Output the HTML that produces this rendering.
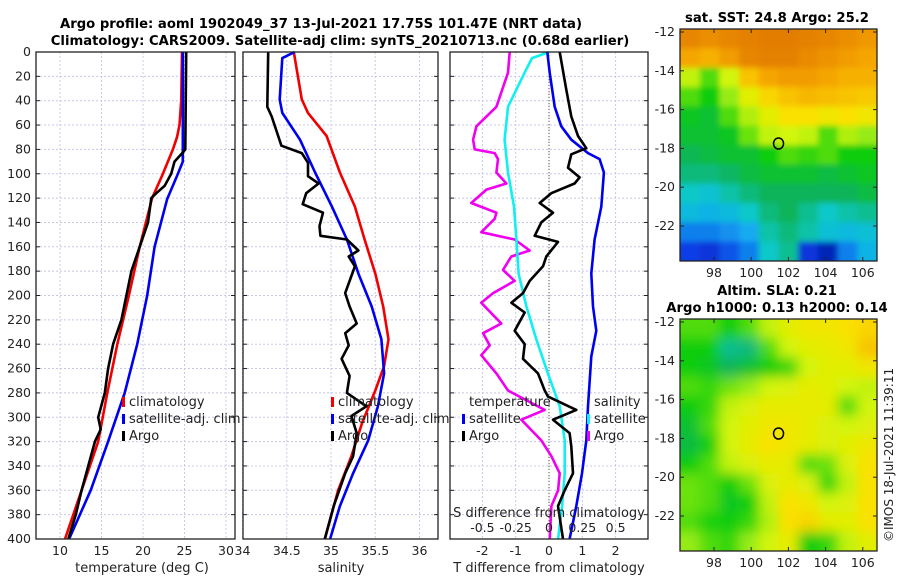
<!DOCTYPE html>
<html><head><meta charset="utf-8">
<style>
body{margin:0;background:#fff;}
svg{display:block;font-family:"DejaVu Sans","Liberation Sans",sans-serif;}
.t{font-size:12px;fill:#222;}
.b{font-size:13.2px;font-weight:bold;fill:#000;}
</style></head>
<body>
<svg id="c" width="900" height="580" viewBox="0 0 900 580">
<text class="b" x="321" y="28" text-anchor="middle">Argo profile: aoml 1902049_37 13-Jul-2021 17.75S 101.47E (NRT data)</text>
<text class="b" x="340" y="45" text-anchor="middle">Climatology: CARS2009. Satellite-adj clim: synTS_20210713.nc (0.68d earlier)</text>
<text class="b" x="777" y="22" text-anchor="middle">sat. SST: 24.8 Argo: 25.2</text>
<text class="b" x="777" y="295" text-anchor="middle">Altim. SLA: 0.21</text>
<text class="b" x="777" y="312" text-anchor="middle">Argo h1000: 0.13 h2000: 0.14</text>
<text class="t" x="0" y="0" transform="translate(893,542) rotate(-90)">©IMOS 18-Jul-2021 11:39:11</text>
<g id="g"></g>
</svg>
<script>
// ---- depth axis
const depthTicks=[0,20,40,60,80,100,120,140,160,180,200,220,240,260,280,300,320,340,360,380,400];
// ---- panel 1: temperature
const tDepthRed=[0,40,60,70,80,100,120,160,200,240,280,320,360,400];
const tRed=[24.7,24.6,24.4,24.1,23.6,22.4,21.1,19.6,18.3,16.9,15.7,14.6,12.6,10.6];
const tDepthBlue=[0,90,100,121,160,200,240,280,320,360,400];
const tBlue=[24.8,24.8,24.2,22.9,21.4,20.5,19.3,17.8,15.8,13.7,11.1];
const tDepthArgo=[0,80,84,90,100,110,116,120,140,160,180,200,220,240,260,280,290,300,310,320,360,380,400];
const tArgo=[25.2,25.1,24.6,23.8,23.4,22.6,21.6,21.0,20.6,19.6,18.6,18.0,17.4,16.4,15.8,15.4,15.0,14.6,14.9,14.2,12.6,11.9,11.0];
const tTicks=[10,15,20,25,30];
// ---- panel 2: salinity
const sDepthRed=[0,39,50,69,99,127,154,182,209,236,258,278,305,332,360,400];
const sRed=[34.58,34.67,34.74,34.95,35.10,35.27,35.38,35.50,35.59,35.65,35.60,35.50,35.35,35.23,35.08,34.93];
const sDepthBlue=[0,5,39,50,72,99,127,154,182,209,236,264,291,319,346,373,400];
const sBlue=[34.59,34.45,34.42,34.45,34.65,34.82,35.01,35.18,35.31,35.46,35.57,35.60,35.53,35.42,35.25,35.10,34.99];
const sDepthArgo=[0,45,53,77,83,91,102,108,116,125,132,143,151,154,163,168,176,184,198,209,223,231,241,252,266,280,291,299,313,332,346,373,400];
const sArgo=[34.29,34.28,34.33,34.44,34.67,34.74,34.74,34.86,34.72,34.68,34.91,34.87,34.88,35.18,35.31,35.20,35.27,35.23,35.16,35.21,35.29,35.16,35.20,35.12,35.21,35.18,35.40,35.23,35.29,35.25,35.16,35.03,34.93];
const sTicks=[34,34.5,35,35.5,36];
// ---- panel 3: differences
const dDepthTA=[0,31,53,69,79,84,95,103,108,116,124,132,140,151,156,168,176,188,198,206,214,229,240,252,264,278,283,294,302,313,324,346,360,373,400];
const dTArgo=[0.32,0.52,0.67,0.87,1.12,0.67,0.57,0.92,0.77,0.07,-0.28,0.12,-0.23,-0.43,0.27,-0.08,-0.18,-0.58,-0.78,-1.13,-0.73,-1.03,-0.73,-0.78,-0.33,-0.13,-0.03,0.82,0.12,0.62,0.67,0.72,0.47,0.27,0.42];
const dDepthTS=[0,17,45,61,72,83,88,99,127,154,182,209,229,250,291,319,346,373,400];
const dTSat=[-0.05,0.02,0.17,0.37,0.67,1.17,1.52,1.65,1.57,1.37,1.27,1.32,1.42,1.27,1.17,1.12,0.99,0.82,0.62];
const dDepthSA=[0,17,45,61,72,80,83,88,99,108,113,124,132,137,148,154,163,168,179,188,198,206,223,231,241,249,264,278,294,302,319,332,346,360,373,400];
const dSArgo=[-0.295,-0.308,-0.395,-0.545,-0.57,-0.558,-0.408,-0.383,-0.395,-0.32,-0.47,-0.583,-0.395,-0.408,-0.508,-0.258,-0.145,-0.283,-0.345,-0.258,-0.42,-0.508,-0.358,-0.495,-0.445,-0.508,-0.395,-0.308,-0.033,-0.208,-0.058,0.018,0.08,0.068,0.018,0.005];
const dDepthSS=[0,5,17,45,72,99,127,154,182,209,236,264,291,319,346,373,400];
const dSSat=[0,-0.128,-0.183,-0.308,-0.333,-0.308,-0.263,-0.245,-0.228,-0.17,-0.095,-0.008,0.08,0.118,0.118,0.098,0.068];
const dTTicks=[-2,-1,0,1,2];
const dSTicks=[-0.5,-0.25,0,0.25,0.5];
const dSTickLabels=["-0.5","-0.25","0","0.25","0.5"];
// ---- maps (normalised colour values, rows top->bottom)
const sstGrid=[
[.97,.95,.97,.98,.99,.99,.98,.97,.95,.93],
[.9,.88,.92,.97,.98,.98,.96,.94,.92,.9],
[.7,.6,.72,.85,.9,.92,.92,.9,.88,.88],
[.6,.55,.65,.75,.82,.85,.87,.86,.85,.84],
[.52,.5,.6,.68,.75,.8,.8,.78,.8,.78],
[.5,.5,.52,.62,.7,.72,.7,.6,.68,.65],
[.46,.48,.5,.5,.55,.6,.58,.6,.55,.55],
[.42,.42,.44,.48,.5,.5,.5,.48,.5,.52],
[.35,.33,.38,.42,.45,.45,.45,.45,.45,.48],
[.3,.28,.3,.35,.42,.45,.4,.35,.38,.4],
[.2,.2,.22,.25,.38,.42,.38,.32,.3,.32],
[.12,.1,.15,.2,.35,.4,.1,.05,.2,.28]];
const slaGrid=[
[.6,.6,.55,.6,.7,.75,.78,.78,.8,.82],
[.55,.55,.4,.42,.6,.72,.75,.76,.78,.85],
[.55,.52,.45,.5,.55,.58,.72,.75,.75,.78],
[.6,.58,.62,.65,.72,.74,.76,.75,.72,.7],
[.55,.58,.7,.74,.76,.76,.76,.76,.6,.72],
[.5,.6,.72,.75,.78,.78,.76,.74,.72,.74],
[.48,.55,.72,.76,.8,.78,.76,.74,.75,.78],
[.55,.6,.7,.74,.76,.76,.6,.62,.74,.8],
[.62,.6,.55,.62,.74,.76,.74,.58,.7,.8],
[.62,.6,.52,.55,.7,.8,.78,.72,.74,.8],
[.6,.56,.55,.58,.68,.8,.82,.76,.75,.8],
[.65,.6,.58,.65,.72,.76,.55,.58,.7,.75]];
const lonTicks=[98,100,102,104,106];
const latTicks=[-12,-14,-16,-18,-20,-22];
const argoLon=101.47, argoLat=-17.75;

const NS='http://www.w3.org/2000/svg';
const G=document.getElementById('g');
function mk(tag,attrs,parent){const e=document.createElementNS(NS,tag);for(const k in attrs)e.setAttribute(k,attrs[k]);(parent||G).appendChild(e);return e;}
const Y0=52,Y1=539;
const yD=d=>Y0+d*(Y1-Y0)/400;

function panel(name){
  const g=mk('g',{});
  
  
  return g;
}
function frame(g,x0,x1,xs,ticks,name){
  ticks.forEach(v=>{const l=mk('line',{x1:xs(v),x2:xs(v),y1:Y0,y2:Y1,stroke:'#c8c8e8','stroke-dasharray':'2,2','stroke-width':1},g);
    
    });
  depthTicks.forEach(d=>{const l=mk('line',{x1:x0,x2:x1,y1:yD(d),y2:yD(d),stroke:'#c8c8e8','stroke-dasharray':'2,2','stroke-width':1},g);
    
    
    mk('line',{x1:x0,x2:x0+4,y1:yD(d),y2:yD(d),stroke:'#222'},g);mk('line',{x1:x1-4,x2:x1,y1:yD(d),y2:yD(d),stroke:'#222'},g);});
}
function box(g,x0,x1,name){const r=mk('rect',{x:x0,y:Y0,width:x1-x0,height:Y1-Y0,fill:'none',stroke:'#222','stroke-width':1.3},g);
  
  }
function line(g,xs,vals,depths,col,name){
  const p=vals.map((v,i)=>(i?'L':'M')+xs(v).toFixed(1)+','+yD(depths[i]).toFixed(1)).join('');
  const e=mk('path',{d:p,fill:'none',stroke:col,'stroke-width':2.6,'stroke-linejoin':'round'},g);
  
  
}
function txt(g,x,y,s,anchor,name,size){const t=mk('text',{x:x,y:y,'text-anchor':anchor||'middle',class:'t'},g);if(size)t.style.fontSize=size+'px';t.textContent=s;
  
  return t;}
function legend(g,x,y,col,label,name){
  if(col){const r=mk('rect',{x:x,y:y-9,width:3,height:10,fill:col},g);
    
    }
  txt(g,x+7,y,label,'start',name,13);
}

depthTicks.forEach(d=>txt(G,31,yD(d)+4,String(d),'end','depth-tick-label',12.5));

// Panel 1
{const x0=36,x1=235,xs=v=>60+(v-10)*8.3;const g=panel('temperature-panel');
 frame(g,x0,x1,xs,tTicks,'temperature');
 line(g,xs,tRed,tDepthRed,'#f00000','temperature-climatology-line');
 line(g,xs,tBlue,tDepthBlue,'#0000f0','temperature-satellite-line');
 line(g,xs,tArgo,tDepthArgo,'#000','temperature-argo-line');
 box(g,x0,x1,'temperature');
 tTicks.forEach(v=>txt(g,xs(v),555,String(v),'middle','temperature-tick-label',12.5));
 txt(g,142,572,'temperature (deg C)','middle','temperature-axis-title',13);
 legend(g,122,406,'#f00000','climatology','legend-climatology');
 legend(g,122,423,'#0000f0','satellite-adj. clim','legend-satellite');
 legend(g,122,440,'#000','Argo','legend-argo');}
// Panel 2
{const x0=243,x1=438,xs=v=>331+(v-35)*88.5;const g=panel('salinity-panel');
 frame(g,x0,x1,xs,sTicks,'salinity');
 line(g,xs,sRed,sDepthRed,'#f00000','salinity-climatology-line');
 line(g,xs,sBlue,sDepthBlue,'#0000f0','salinity-satellite-line');
 line(g,xs,sArgo,sDepthArgo,'#000','salinity-argo-line');
 box(g,x0,x1,'salinity');
 sTicks.forEach(v=>txt(g,xs(v),555,String(v),'middle','salinity-tick-label',12.5));
 txt(g,341,572,'salinity','middle','salinity-axis-title',13);
 legend(g,331,406,'#f00000','climatology','legend-climatology');
 legend(g,331,423,'#0000f0','satellite-adj. clim','legend-satellite');
 legend(g,331,440,'#000','Argo','legend-argo');}
// Panel 3
{const x0=450,x1=648,xs=v=>549+v*33.3,xss=v=>549+v*133.2;const g=panel('difference-panel');
 frame(g,x0,x1,xs,dTTicks,'difference');
 const z=mk('line',{x1:549,x2:549,y1:Y0,y2:Y1,stroke:'#605030','stroke-dasharray':'1,2','stroke-width':1},g);
 
 
 line(g,xss,dSArgo,dDepthSA,'#f000f0','salinity-argo-diff-line');
 line(g,xss,dSSat,dDepthSS,'#10f0f0','salinity-satellite-diff-line');
 line(g,xs,dTSat,dDepthTS,'#0000f0','temperature-satellite-diff-line');
 line(g,xs,dTArgo,dDepthTA,'#000','temperature-argo-diff-line');
 box(g,x0,x1,'difference');
 dTTicks.forEach(v=>txt(g,xs(v),555,String(v),'middle','t-diff-tick-label',12.5));
 dSTicks.forEach((v,i)=>txt(g,xss(v),532,dSTickLabels[i],'middle','s-diff-tick-label',12.5));
 txt(g,549,517,'S difference from climatology','middle','s-diff-axis-title',13);
 txt(g,549,572,'T difference from climatology','middle','t-diff-axis-title',13);
 legend(g,462,406,null,'temperature','legend-temperature-heading');
 legend(g,462,423,'#0000f0','satellite','legend-temperature-satellite');
 legend(g,462,440,'#000','Argo','legend-temperature-argo');
 legend(g,587,406,null,'salinity','legend-salinity-heading');
 legend(g,587,423,'#10f0f0','satellite','legend-salinity-satellite');
 legend(g,587,440,'#f000f0','Argo','legend-salinity-argo');}

const stops=[[0,[0,20,150]],[.12,[10,60,230]],[.25,[20,170,240]],[.35,[10,200,200]],[.45,[10,180,90]],[.55,[10,205,10]],[.65,[150,235,20]],[.72,[210,245,10]],[.8,[250,225,0]],[.9,[245,165,0]],[1,[225,120,0]]];
function cmap(v){for(let i=1;i<stops.length;i++){if(v<=stops[i][0]){const a=stops[i-1],b=stops[i],t=(v-a[0])/(b[0]-a[0]);return 'rgb('+a[1].map((c,k)=>Math.round(c+(b[1][k]-c)*t)).join(',')+')';}}return 'rgb(225,120,0)';}
function map(name,grid,mx0,my0,mx1,my1,latY0,blur){
  const g=mk('g',{});
  
  
  const id='clip'+name;const cp=mk('clipPath',{id:id},g);mk('rect',{x:mx0,y:my0,width:mx1-mx0,height:my1-my0},cp);
  const gi=mk('g',{'clip-path':'url(#'+id+')'},g);
  const inner=mk('g',{filter:blur?'url(#bl)':'url(#bl2)'},gi);
  const rows=grid.length,cols=grid[0].length,cw=(mx1-mx0)/cols,ch=(my1-my0)/rows;
  grid.forEach((row,r)=>row.forEach((v,c)=>{
    const ex=(c===0?12:0),ey=(r===0?12:0),ex2=(c===cols-1?12:0),ey2=(r===rows-1?12:0);
    const e=mk('rect',{x:mx0+c*cw-ex,y:my0+r*ch-ey,width:cw+1+ex+ex2,height:ch+1+ey+ey2,fill:cmap(v)},inner);
    
    }));
  const lx=v=>714+(v-98)*18.6, ly=v=>latY0+(-12-v)*19.4;
  mk('rect',{x:mx0,y:my0,width:mx1-mx0,height:my1-my0,fill:'none',stroke:'#222','stroke-width':1.3},g);
  lonTicks.forEach(v=>{mk('line',{x1:lx(v),x2:lx(v),y1:my0,y2:my0+4,stroke:'#222'},g);mk('line',{x1:lx(v),x2:lx(v),y1:my1-4,y2:my1,stroke:'#222'},g);
    txt(g,lx(v),my1+16,String(v),'middle','longitude-tick-label',12.5);});
  latTicks.forEach(v=>{mk('line',{x1:mx0,x2:mx0+4,y1:ly(v),y2:ly(v),stroke:'#222'},g);mk('line',{x1:mx1-4,x2:mx1,y1:ly(v),y2:ly(v),stroke:'#222'},g);
    txt(g,mx0-5,ly(v)+4,String(v),'end','latitude-tick-label',12.5);});
  const m=mk('ellipse',{cx:lx(argoLon),cy:ly(argoLat),rx:5,ry:5.5,fill:'none',stroke:'#000','stroke-width':1.5},g);
  
  
}
const defs=mk('defs',{});
const f=mk('filter',{id:'bl',x:'-5%',y:'-5%',width:'110%',height:'110%'},defs);mk('feGaussianBlur',{stdDeviation:6},f);
const f2=mk('filter',{id:'bl2',x:'-5%',y:'-5%',width:'110%',height:'110%'},defs);mk('feGaussianBlur',{stdDeviation:3},f2);
map('sst-map',sstGrid,680,29,877,261,32,false);
map('sla-map',slaGrid,680,319,877,551,322,true);
</script>
</body></html>
